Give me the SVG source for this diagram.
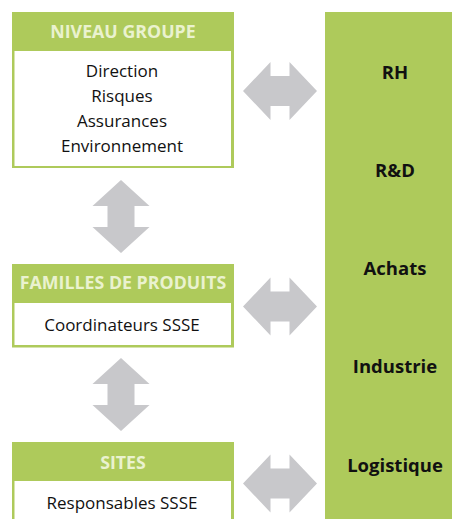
<svg xmlns="http://www.w3.org/2000/svg" width="452" height="519" viewBox="0 0 452 519">
<style>
.g{fill:#aeca5b}
.w{fill:#ffffff}
.arr{fill:#c8c8cb}
.hd{font-family:"Open Sans","Noto Sans","Liberation Sans",sans-serif;font-weight:bold;font-size:17.8px;fill:#eaf2cf;text-anchor:middle}
.bd{font-family:"Open Sans","Noto Sans","Liberation Sans",sans-serif;font-size:17px;fill:#111;text-anchor:middle}
.rt{font-family:"Open Sans","Noto Sans","Liberation Sans",sans-serif;font-weight:bold;font-size:18.5px;fill:#111;text-anchor:middle}
</style>
<defs>
<polygon id="harr" points="-37,0 -9.5,-29 -9.5,-15 9.5,-15 9.5,-29 37,0 9.5,29 9.5,15 -9.5,15 -9.5,29"/>
<polygon id="varr" points="0,-36.5 28.5,-10.5 13.5,-10.5 13.5,10.5 28.5,10.5 0,36.5 -28.5,10.5 -13.5,10.5 -13.5,-10.5 -28.5,-10.5"/>
</defs>
<rect width="452" height="519" fill="#ffffff"/>
<g id="fonctions">
<rect class="g" x="325" y="12" width="127" height="507"/>
<text class="rt" x="395" y="78.5">RH</text>
<text class="rt" x="395" y="176.5">R&amp;D</text>
<text class="rt" x="395" y="274.5">Achats</text>
<text class="rt" x="395" y="373">Industrie</text>
<text class="rt" x="395" y="471.5">Logistique</text>
</g>
<g id="niveau-groupe">
<rect class="g" x="12" y="12" width="222" height="156"/>
<rect class="w" x="14.5" y="51" width="216.5" height="115"/>
<text class="hd" x="123" y="37.5">NIVEAU GROUPE</text>
<text class="bd" x="122" y="76.5">Direction</text>
<text class="bd" x="122" y="101.5">Risques</text>
<text class="bd" x="122" y="126.5">Assurances</text>
<text class="bd" x="122" y="151.5">Environnement</text>
</g>
<g id="familles">
<rect class="g" x="12" y="264" width="222" height="83.5"/>
<rect class="w" x="14.5" y="303" width="216.5" height="42"/>
<text class="hd" x="123" y="288.5">FAMILLES DE PRODUITS</text>
<text class="bd" x="122" y="330.5">Coordinateurs SSSE</text>
</g>
<g id="sites">
<rect class="g" x="12" y="442" width="222" height="90"/>
<rect class="w" x="14.5" y="481" width="216.5" height="50"/>
<text class="hd" x="123" y="468.5">SITES</text>
<text class="bd" x="122" y="508.5">Responsables SSSE</text>
</g>
<g id="connectors" class="arr">
<use href="#harr" x="280" y="91"/>
<use href="#harr" x="280" y="306.5"/>
<use href="#harr" x="280" y="483.5"/>
<use href="#varr" x="121" y="216.5"/>
<use href="#varr" x="121" y="394.5"/>
</g>
</svg>
